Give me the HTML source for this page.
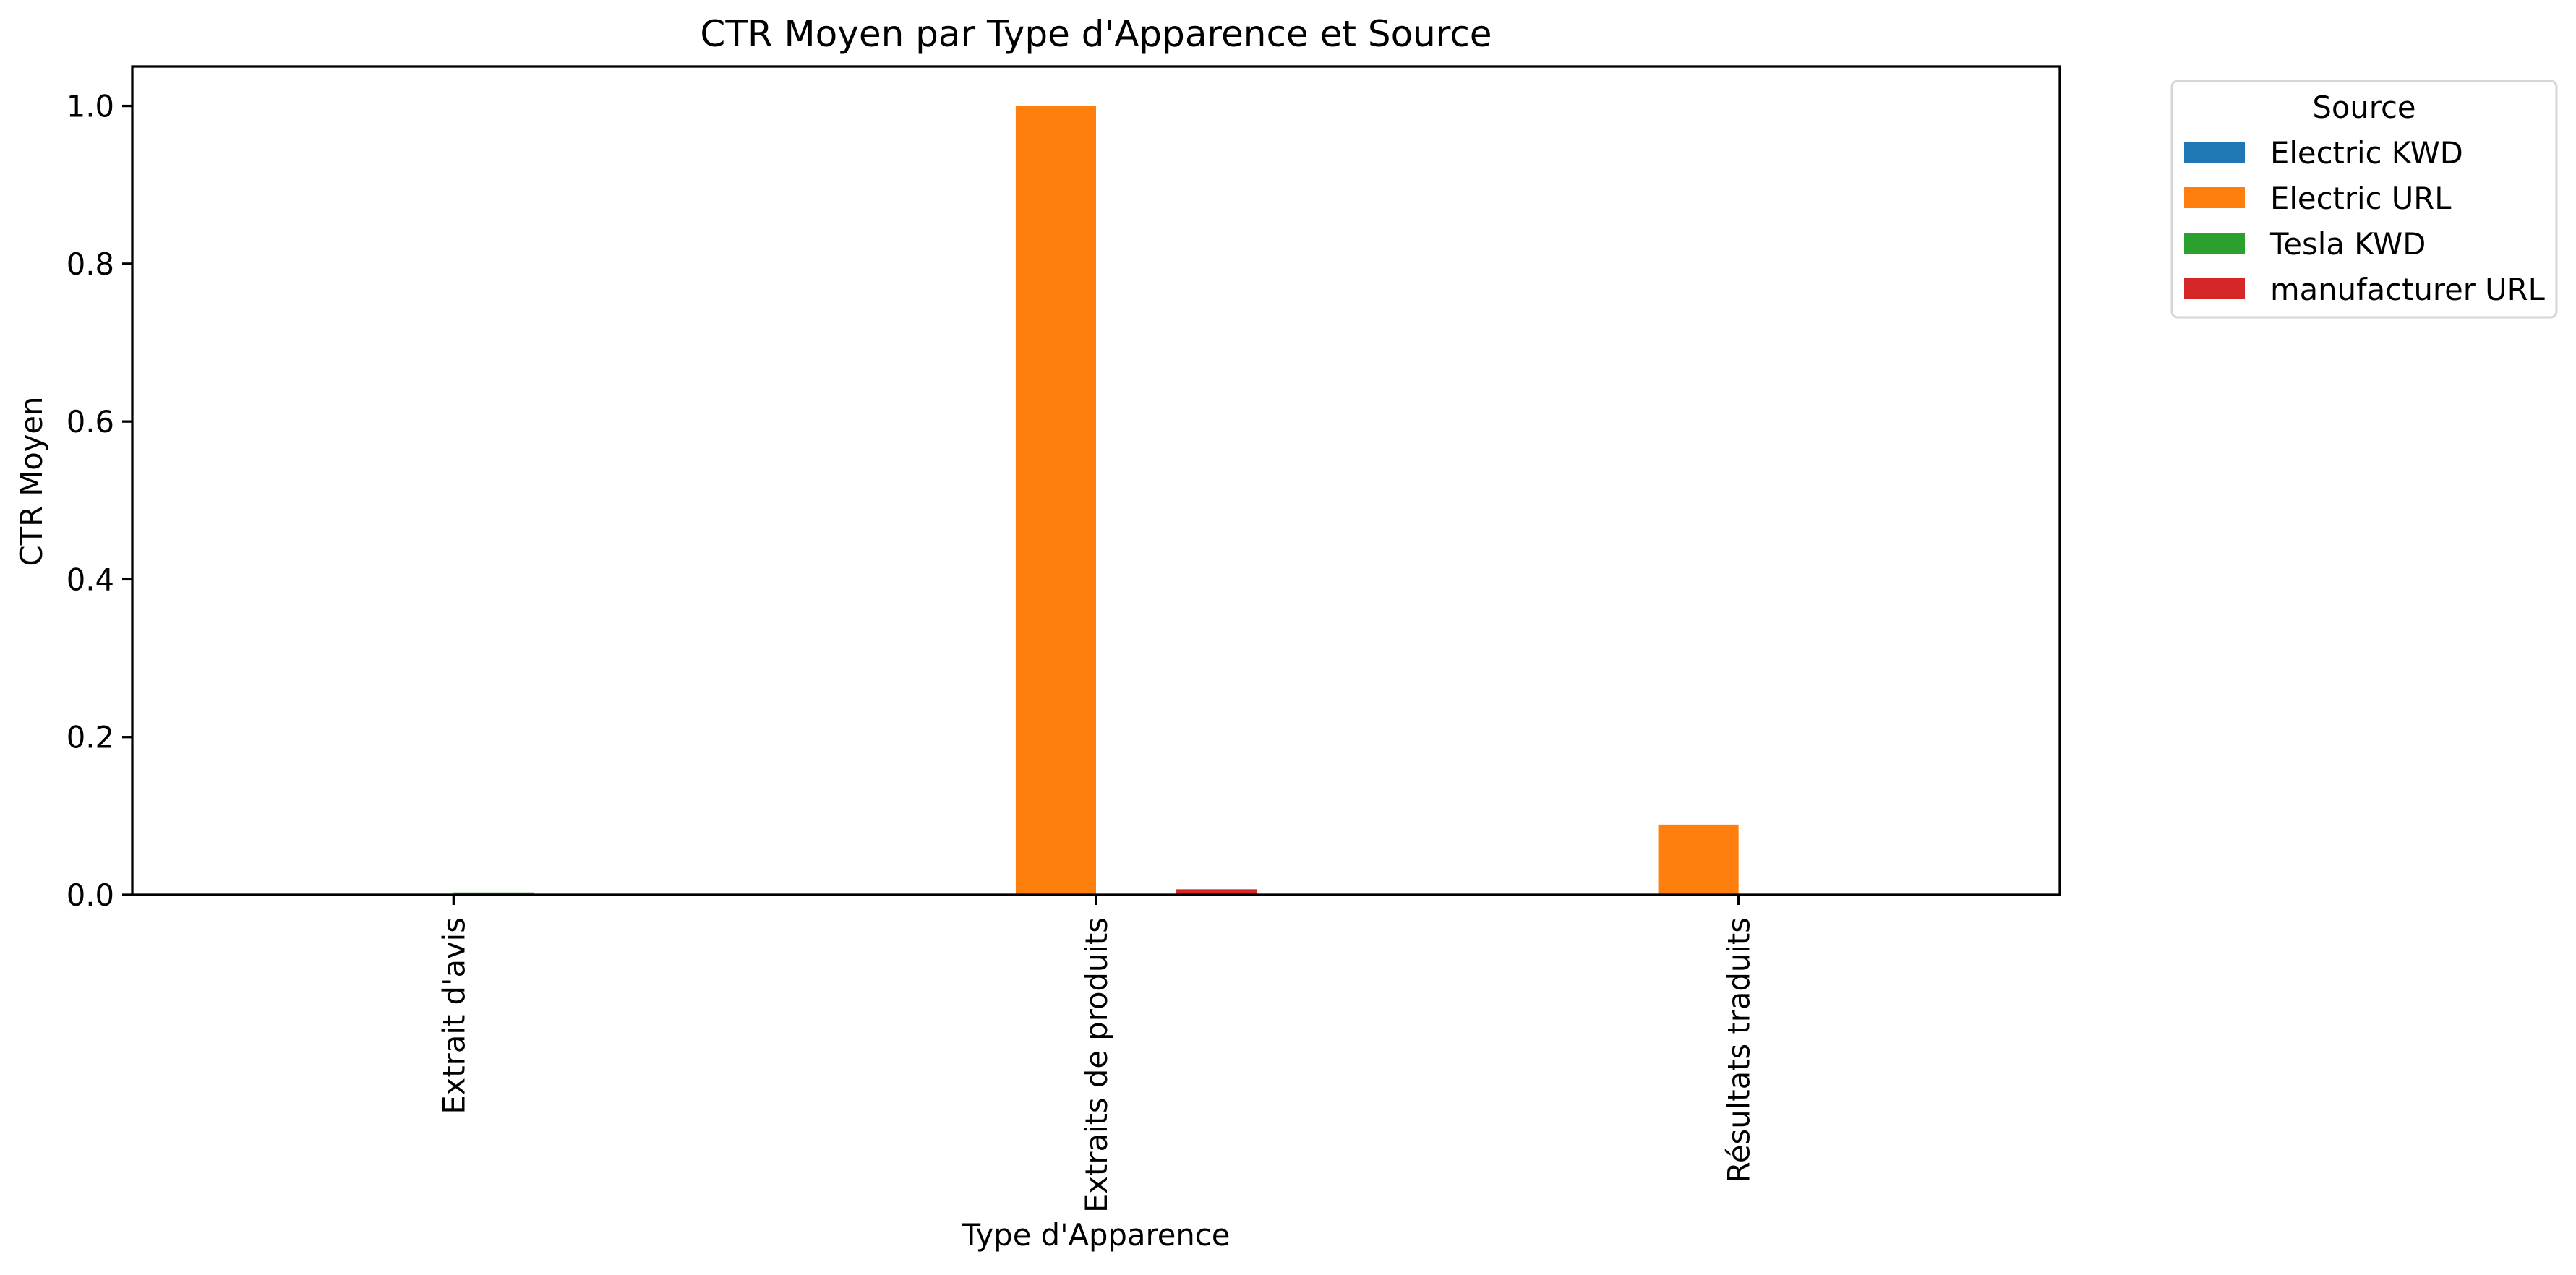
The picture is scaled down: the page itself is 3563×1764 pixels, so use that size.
<!DOCTYPE html>
<html><head><meta charset="utf-8"><style>
html,body{margin:0;padding:0;background:#fff;}
svg{display:block;font-family:"DejaVu Sans","Liberation Sans",sans-serif;}
</style></head><body>
<svg id="chart" width="3563" height="1764" viewBox="0 0 3563 1764" xmlns="http://www.w3.org/2000/svg">
<rect width="3563" height="1764" fill="#fff"/>
<text x="1516" y="64" font-size="50" text-anchor="middle">CTR Moyen par Type d'Apparence et Source</text>
<g id="bars"></g>
<g id="axes"></g>
<text transform="translate(58,666) rotate(-90)" font-size="41.7" text-anchor="middle">CTR Moyen</text>
<text x="1516" y="1723" font-size="41.7" text-anchor="middle">Type d'Apparence</text>
<g id="legend">
<rect x="3004" y="112" width="532" height="327" rx="8" fill="#fff" stroke="#d6d6d6" stroke-width="3"/>
<text x="3270" y="163" font-size="41.7" text-anchor="middle">Source</text>
</g>
</svg>
<script>
const categories = ["Extrait d'avis", "Extraits de produits", "Résultats traduits"];
const seriesNames = ["Electric KWD", "Electric URL", "Tesla KWD", "manufacturer URL"];
const electricKwd = [0.001, 0, 0, 0];
const electricUrl = [0, 1.0, 0.089];
const teslaKwd = [0.003, 0.001, 0];
const manufacturerUrl = [0, 0.007, 0];
const yTicks = [0.0, 0.2, 0.4, 0.6, 0.8, 1.0];
const yTickLabels = ["0.0", "0.2", "0.4", "0.6", "0.8", "1.0"];

const seriesValues = [electricKwd, electricUrl, teslaKwd, manufacturerUrl];
const colors = ["#1f77b4", "#ff7f0e", "#2ca02c", "#d62728"];
const NS = "http://www.w3.org/2000/svg";
const L = 183, R = 2849, T = 92, B = 1238;
const yMax = 1.05;
const xScale = v => L + (v + 0.5) / categories.length * (R - L);
const yScale = v => B - v / yMax * (B - T);
const barW = 0.5 / seriesNames.length;

const barsG = document.getElementById('bars');
seriesValues.forEach((vals, s) => {
  categories.forEach((c, i) => {
    const v = vals[i] || 0;
    const x0 = xScale(i - 0.25 + s * barW), x1 = xScale(i - 0.25 + (s + 1) * barW);
    const r = document.createElementNS(NS, 'rect');
    
    
    r.setAttribute('x', x0); r.setAttribute('width', x1 - x0);
    r.setAttribute('y', yScale(v)); r.setAttribute('height', B - yScale(v));
    r.setAttribute('fill', colors[s]);
    barsG.appendChild(r);
  });
});

const ax = document.getElementById('axes');
const frame = document.createElementNS(NS, 'rect');


frame.setAttribute('x', L); frame.setAttribute('y', T);
frame.setAttribute('width', R - L); frame.setAttribute('height', B - T);
frame.setAttribute('fill', 'none'); frame.setAttribute('stroke', '#000'); frame.setAttribute('stroke-width', '3.3');
ax.appendChild(frame);

yTicks.forEach((t, i) => {
  const y = yScale(t);
  const ln = document.createElementNS(NS, 'line');
  
  
  ln.setAttribute('x1', L - 14); ln.setAttribute('x2', L); ln.setAttribute('y1', y); ln.setAttribute('y2', y);
  ln.setAttribute('stroke', '#000'); ln.setAttribute('stroke-width', '3.3');
  ax.appendChild(ln);
  const tx = document.createElementNS(NS, 'text');
  
  
  tx.setAttribute('x', L - 25); tx.setAttribute('y', y + 15);
  tx.setAttribute('font-size', '41.7'); tx.setAttribute('text-anchor', 'end');
  tx.textContent = yTickLabels[i];
  ax.appendChild(tx);
});

categories.forEach((c, i) => {
  const x = xScale(i);
  const ln = document.createElementNS(NS, 'line');
  
  
  ln.setAttribute('x1', x); ln.setAttribute('x2', x); ln.setAttribute('y1', B); ln.setAttribute('y2', B + 14);
  ln.setAttribute('stroke', '#000'); ln.setAttribute('stroke-width', '3.3');
  ax.appendChild(ln);
  const tx = document.createElementNS(NS, 'text');
  
  
  tx.setAttribute('transform', 'translate(' + (x + 15) + ',' + (B + 31) + ') rotate(-90)');
  tx.setAttribute('font-size', '41.7'); tx.setAttribute('text-anchor', 'end');
  tx.textContent = c;
  ax.appendChild(tx);
});

const lg = document.getElementById('legend');
seriesNames.forEach((n, s) => {
  const y = 196 + s * 63;
  const r = document.createElementNS(NS, 'rect');
  
  
  r.setAttribute('x', 3021); r.setAttribute('y', y); r.setAttribute('width', 84); r.setAttribute('height', 29);
  r.setAttribute('fill', colors[s]);
  lg.appendChild(r);
  const tx = document.createElementNS(NS, 'text');
  
  
  tx.setAttribute('x', 3140); tx.setAttribute('y', y + 30);
  tx.setAttribute('font-size', '41.7');
  tx.textContent = n;
  lg.appendChild(tx);
});
</script>
</body></html>
